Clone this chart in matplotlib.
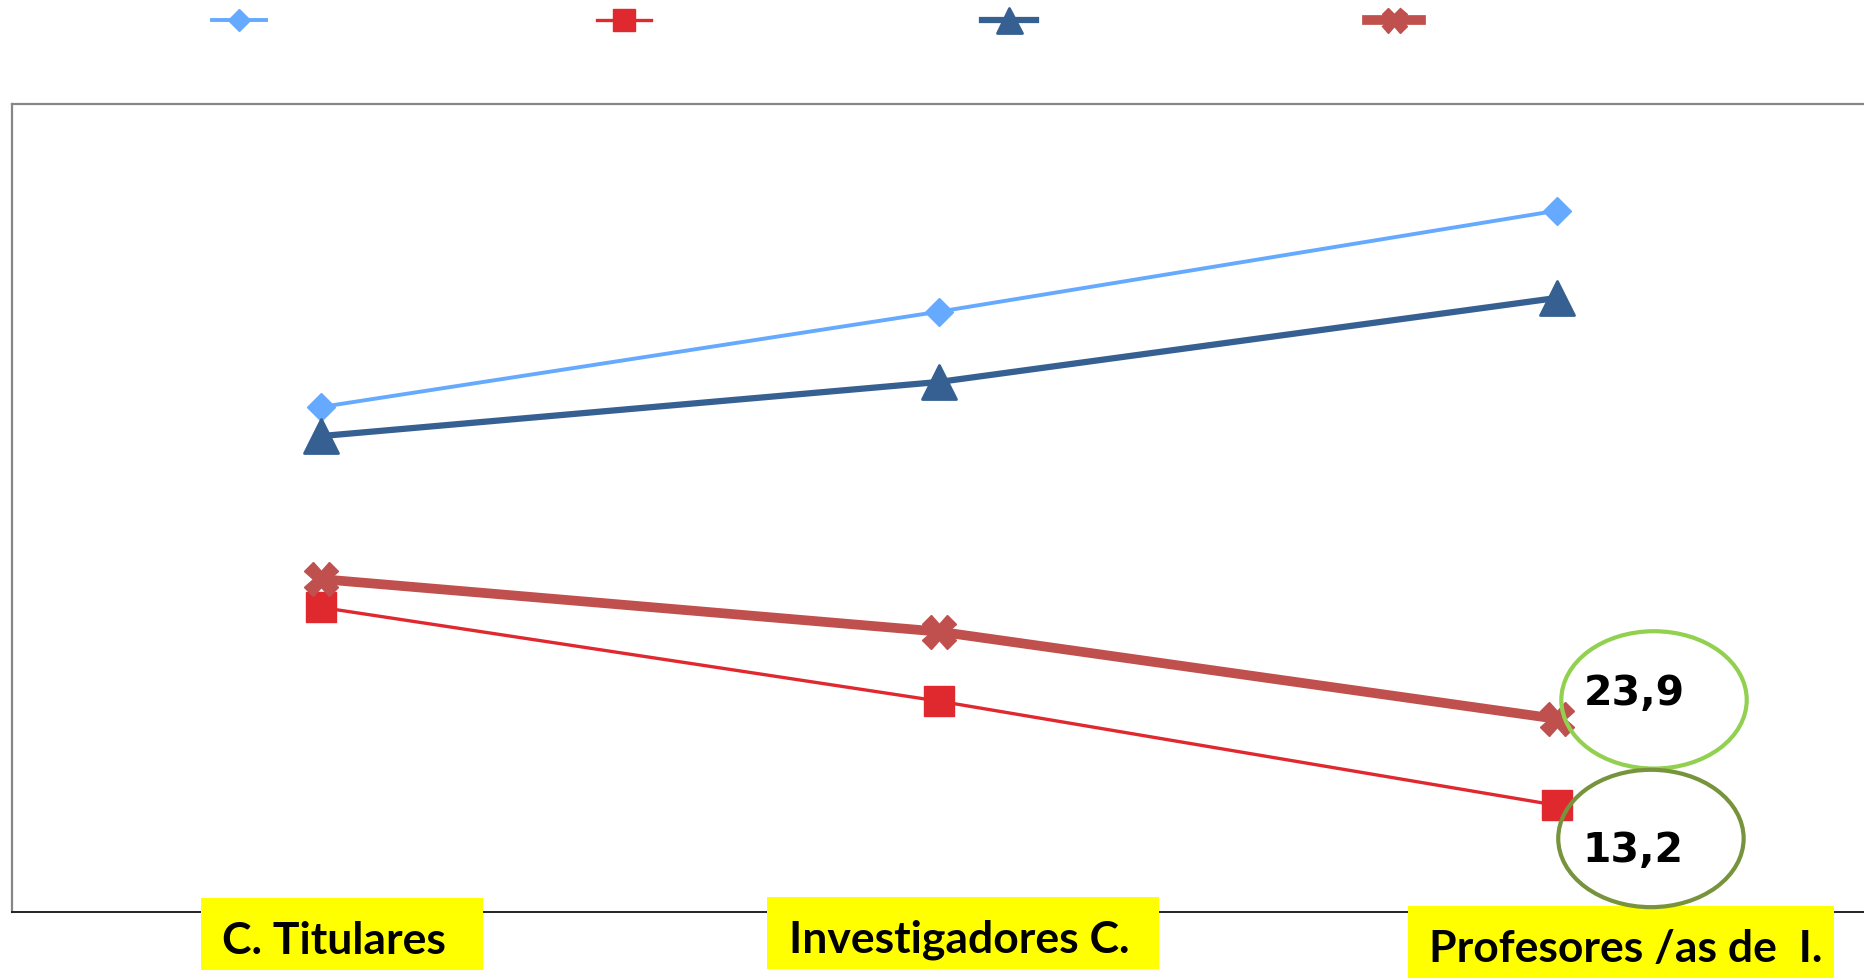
import matplotlib.pyplot as plt
from matplotlib.patches import Ellipse
from matplotlib.path import Path
from matplotlib.markers import MarkerStyle

# categorias del eje x
categorias = ["C. Titulares", "Investigadores C.", "Profesores /as de  I."]

# valores de cada serie (%), en el orden de las categorias
serie_rombo = [62.5, 74.3, 86.8]
serie_cuadrado = [37.7, 26.1, 13.2]
serie_triangulo = [58.9, 65.6, 76.0]
serie_aspa = [41.2, 34.7, 23.9]

series = [serie_rombo, serie_cuadrado, serie_triangulo, serie_aspa]
estilos = [
    dict(color="#66AAFF", lw=2.8, marker="D", ms=14.5),
    dict(color="#E0282F", lw=2.4, marker="s", ms=21),
    dict(color="#366092", lw=4.5, marker=MarkerStyle("^", joinstyle="round"), ms=24, mew=2),
    dict(color="#C0504D", lw=7, marker="X", ms=24),
]


def caja_amarilla(margen_der):
    # recuadro amarillo con margenes distintos a cada lado
    def caja(x0, y0, width, height, mutation_size):
        izq, der = 0.48 * mutation_size, margen_der * mutation_size
        arr, aba = 0.5 * mutation_size, 0.22 * mutation_size
        x1, y1 = x0 - izq, y0 - aba
        x2, y2 = x0 + width + der, y0 + height + arr
        return Path([(x1, y1), (x2, y1), (x2, y2), (x1, y2), (x1, y1)], closed=True)
    return caja


fig = plt.figure(figsize=(18.65, 9.79), dpi=100)
ax = fig.add_axes([12 / 1865, 1 - 913 / 979, 1854 / 1865, 808 / 979])

x = list(range(len(categorias)))
lineas = []
for valores, estilo in zip(series, estilos):
    (ln,) = ax.plot(x, valores, **estilo)
    lineas.append(ln)

ax.set_xlim(-0.5, 2.5)
ax.set_ylim(0, 100)
ax.set_xticks([])
ax.set_yticks([])
ax.spines["right"].set_visible(False)
for lado in ["left", "top"]:
    ax.spines[lado].set_color("#868686")
    ax.spines[lado].set_linewidth(1.6)
ax.spines["bottom"].set_color("#222222")
ax.spines["bottom"].set_linewidth(1.4)

# etiquetas de categoria sobre fondo amarillo
desplaz_etiquetas = [(13, -41), (20, -40), (69, -49)]
margenes_der = [0.83, 0.68, 0.25]
for i, nombre in enumerate(categorias):
    ax.annotate(nombre, xy=(i, 0), xycoords=("data", "axes fraction"),
                xytext=desplaz_etiquetas[i], textcoords="offset pixels",
                ha="center", va="baseline", fontsize=32, fontweight="bold",
                family="Lato", color="black", annotation_clip=False, zorder=5,
                bbox=dict(boxstyle=caja_amarilla(margenes_der[i]),
                          fc="#FFFF00", ec="none"))

# valores destacados del ultimo punto, rodeados por una elipse
ultimo = len(categorias) - 1
destacados = [
    (serie_aspa, "#92D050", (77, 15), (0.157, 2.35)),
    (serie_cuadrado, "#77933C", (76, -56), (0.152, -4.1)),
]
for valores, color_elipse, desp_texto, desp_elipse in destacados:
    v = valores[ultimo]
    ax.annotate(f"{v:.1f}".replace(".", ","), xy=(ultimo, v),
                xytext=desp_texto, textcoords="offset pixels",
                ha="center", va="baseline", fontsize=29.5, fontweight="bold",
                color="black", annotation_clip=False, zorder=6)
    ax.add_patch(Ellipse((ultimo + desp_elipse[0], v + desp_elipse[1]), 0.30, 17,
                         fill=False, ec=color_elipse, lw=3, clip_on=False, zorder=6))

# leyenda sin texto en la parte superior
fig.legend(lineas, ["", "", "", ""], ncol=4, loc="center left",
           bbox_to_anchor=(212 / 1865, 1 - 22 / 979), frameon=False,
           fontsize=14, handlelength=2.8, handletextpad=0, columnspacing=17,
           borderpad=0, borderaxespad=0, markerscale=0.75)

fig.savefig("out.png", dpi=100)
